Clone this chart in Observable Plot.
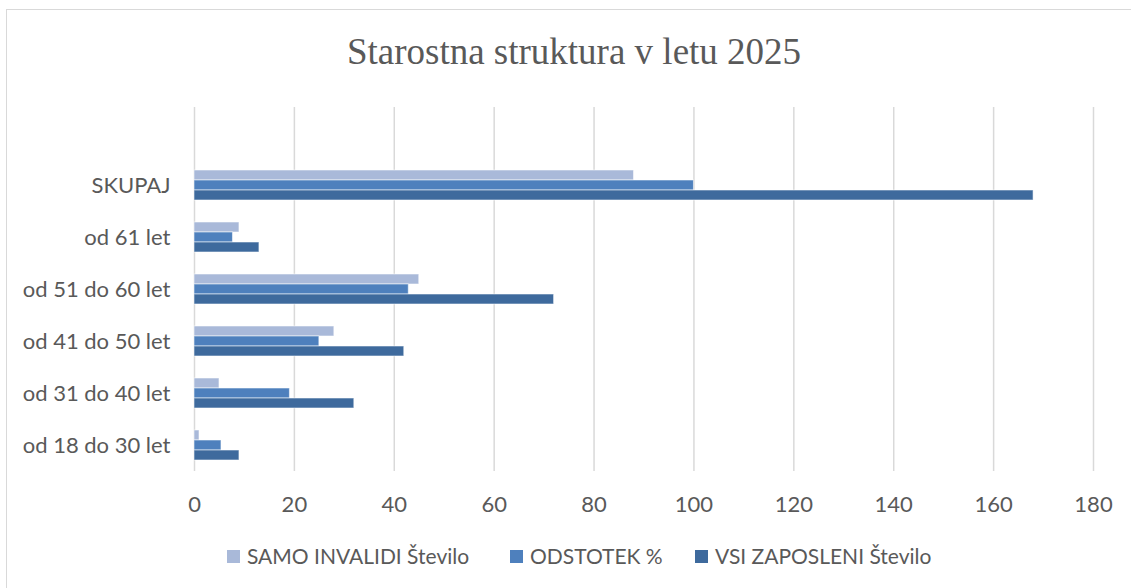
<!DOCTYPE html>
<html>
<head>
<meta charset="utf-8">
<script src="https://cdn.jsdelivr.net/npm/d3@7"></script>
<script src="https://cdn.jsdelivr.net/npm/@observablehq/plot@0.6"></script>
<style>
  body { margin: 0; background: #fff; }
  #wrap { position: relative; width: 1131px; height: 588px; overflow: hidden; font-family: Lato, sans-serif; color: #595959; background: #fff; }
  #frame { position: absolute; left: 6px; top: 9px; width: 1300px; height: 800px; border: 1.5px solid #d9d9d9; box-sizing: border-box; }
  #title { position: absolute; top: 28px; left: 0; width: 1148px; text-align: center; font-family: "Liberation Serif", serif; font-size: 37px; line-height: 48px; color: #595959; }
  #chart { position: absolute; top: 90px; left: 0; }
  .leg { position: absolute; top: 543px; display: flex; align-items: center; font-size: 21px; line-height: 26px; white-space: nowrap; }
  .leg .sw { width: 13px; height: 13px; margin-right: 7px; }
</style>
</head>
<body>
<div id="wrap">
  <div id="frame"></div>
  <div id="title"></div>
  <div id="chart"></div>
  <div id="legend"></div>
</div>
<script>
const title = "Starostna struktura v letu 2025";
const categories = ["SKUPAJ", "od 61 let", "od 51 do 60 let", "od 41 do 50 let", "od 31 do 40 let", "od 18 do 30 let"];
const series = ["SAMO INVALIDI Število", "ODSTOTEK %", "VSI ZAPOSLENI Število"];
const samoInvalidi = [88, 9, 45, 28, 5, 1];
const odstotek = [100, 7.7, 42.9, 25, 19.1, 5.4];
const vsiZaposleni = [168, 13, 72, 42, 32, 9];
const xTicks = [0, 20, 40, 60, 80, 100, 120, 140, 160, 180];
const colors = ["#A9B9D9", "#4E80BD", "#3E6A9D"];
const legendLefts = [227, 510, 695];

document.getElementById("title").textContent = title;

const seriesValues = [samoInvalidi, odstotek, vsiZaposleni];
const data = categories.flatMap((c, i) => series.map((s, j) => ({c, s, v: seriesValues[j][i]})));
const fyDomain = ["", ...categories];
const grid = fyDomain.flatMap(c => xTicks.map(t => ({c, t})));

const chart = Plot.plot({
  width: 1131,
  height: 431,
  marginLeft: 194,
  marginRight: 38,
  marginTop: 16,
  marginBottom: 50,
  style: {fontFamily: "Lato, sans-serif", fontSize: "22px", color: "#595959", background: "transparent"},
  x: {domain: [0, 180], ticks: xTicks},
  fy: {domain: fyDomain, padding: 0, label: null},
  y: {domain: series, paddingInner: 0, paddingOuter: 0.88, axis: null},
  color: {domain: series, range: colors},
  marks: [
    Plot.ruleX(grid, {x: "t", fy: "c", stroke: "#d9d9d9", strokeWidth: 1.5}),
    Plot.barX(data, {x: "v", y: "s", fy: "c", fill: "s", stroke: "#ffffff", strokeOpacity: 0.55, strokeWidth: 1}),
    Plot.axisX({ticks: xTicks, tickSize: 0, tickPadding: 25, label: null, fill: "#595959"}),
    Plot.axisFy({anchor: "left", tickSize: 0, tickPadding: 24, label: null, fill: "#595959"})
  ]
});
document.getElementById("chart").appendChild(chart);

const legend = document.getElementById("legend");
series.forEach((s, j) => {
  const item = document.createElement("div");
  item.className = "leg";
  item.style.left = legendLefts[j] + "px";
  const sw = document.createElement("span");
  sw.className = "sw";
  sw.style.background = colors[j];
  const tx = document.createElement("span");
  tx.textContent = s;
  item.appendChild(sw);
  item.appendChild(tx);
  legend.appendChild(item);
});
</script>
</body>
</html>
